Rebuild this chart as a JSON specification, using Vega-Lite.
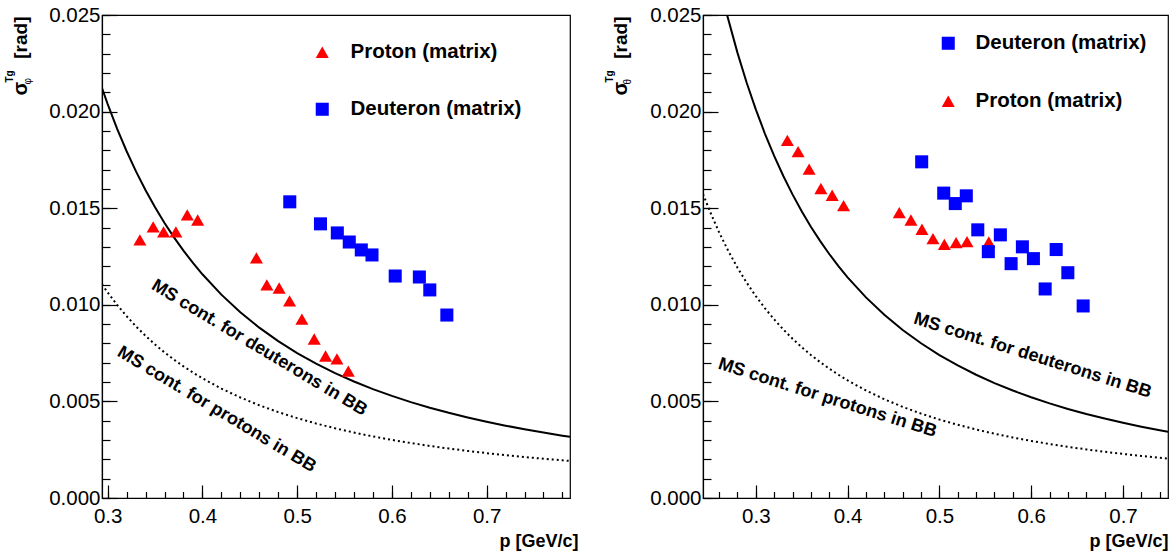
{
  "$schema": "https://vega.github.io/schema/vega-lite/v6.json",
  "background": "white",
  "padding": {"left": 3, "top": 4, "right": 2, "bottom": 2},
  "spacing": 133,
  "bounds": "flush",
  "config": {
    "view": {"stroke": "black", "strokeWidth": 1.2},
    "font": "Liberation Sans",
    "axis": {"grid": false, "domainColor": "black", "tickColor": "black", "labelColor": "black", "titleColor": "black", "labelFont": "Liberation Sans", "titleFont": "Liberation Sans", "labelFlush": false, "labelOverlap": false, "domainWidth": 1.2, "tickWidth": 1.2}
  },
  "resolve": {"scale": {"color": "independent", "shape": "independent"}},
  "datasets": {
    "left_d": [
      {"p": 0.294, "sigma": 0.021217}, {"p": 0.30, "sigma": 0.020388}, {"p": 0.31, "sigma": 0.019110}, {"p": 0.32, "sigma": 0.017949},
      {"p": 0.33, "sigma": 0.016893}, {"p": 0.34, "sigma": 0.015929}, {"p": 0.35, "sigma": 0.015046}, {"p": 0.36, "sigma": 0.014235},
      {"p": 0.37, "sigma": 0.013490}, {"p": 0.38, "sigma": 0.012802}, {"p": 0.39, "sigma": 0.012167}, {"p": 0.40, "sigma": 0.011579},
      {"p": 0.42, "sigma": 0.010526}, {"p": 0.44, "sigma": 0.009613}, {"p": 0.46, "sigma": 0.008816}, {"p": 0.48, "sigma": 0.008117},
      {"p": 0.50, "sigma": 0.007500}, {"p": 0.52, "sigma": 0.006953}, {"p": 0.54, "sigma": 0.006466}, {"p": 0.56, "sigma": 0.006030},
      {"p": 0.58, "sigma": 0.005638}, {"p": 0.60, "sigma": 0.005284}, {"p": 0.62, "sigma": 0.004964}, {"p": 0.64, "sigma": 0.004674},
      {"p": 0.66, "sigma": 0.004409}, {"p": 0.68, "sigma": 0.004168}, {"p": 0.70, "sigma": 0.003947}, {"p": 0.72, "sigma": 0.003744},
      {"p": 0.74, "sigma": 0.003557}, {"p": 0.76, "sigma": 0.003385}, {"p": 0.78, "sigma": 0.003225}, {"p": 0.788, "sigma": 0.003165}
    ],
    "left_p": [
      {"p": 0.294, "sigma": 0.011057}, {"p": 0.30, "sigma": 0.010639}, {"p": 0.31, "sigma": 0.009995}, {"p": 0.32, "sigma": 0.009410},
      {"p": 0.33, "sigma": 0.008878}, {"p": 0.34, "sigma": 0.008391}, {"p": 0.35, "sigma": 0.007946}, {"p": 0.36, "sigma": 0.007537},
      {"p": 0.37, "sigma": 0.007161}, {"p": 0.38, "sigma": 0.006814}, {"p": 0.39, "sigma": 0.006493}, {"p": 0.40, "sigma": 0.006196},
      {"p": 0.42, "sigma": 0.005664}, {"p": 0.44, "sigma": 0.005203}, {"p": 0.46, "sigma": 0.004800}, {"p": 0.48, "sigma": 0.004446},
      {"p": 0.50, "sigma": 0.004134}, {"p": 0.52, "sigma": 0.003856}, {"p": 0.54, "sigma": 0.003609}, {"p": 0.56, "sigma": 0.003387},
      {"p": 0.58, "sigma": 0.003187}, {"p": 0.60, "sigma": 0.003007}, {"p": 0.62, "sigma": 0.002844}, {"p": 0.64, "sigma": 0.002695},
      {"p": 0.66, "sigma": 0.002560}, {"p": 0.68, "sigma": 0.002436}, {"p": 0.70, "sigma": 0.002322}, {"p": 0.72, "sigma": 0.002218},
      {"p": 0.74, "sigma": 0.002121}, {"p": 0.76, "sigma": 0.002032}, {"p": 0.78, "sigma": 0.001949}, {"p": 0.788, "sigma": 0.001918}
    ],
    "right_d": [
      {"p": 0.2688, "sigma": 0.024992}, {"p": 0.28, "sigma": 0.023052}, {"p": 0.29, "sigma": 0.021506}, {"p": 0.30, "sigma": 0.020113},
      {"p": 0.31, "sigma": 0.018852}, {"p": 0.32, "sigma": 0.017708}, {"p": 0.33, "sigma": 0.016666}, {"p": 0.34, "sigma": 0.015714},
      {"p": 0.35, "sigma": 0.014843}, {"p": 0.36, "sigma": 0.014043}, {"p": 0.37, "sigma": 0.013309}, {"p": 0.38, "sigma": 0.012630},
      {"p": 0.39, "sigma": 0.012003}, {"p": 0.40, "sigma": 0.011423}, {"p": 0.42, "sigma": 0.010384}, {"p": 0.44, "sigma": 0.009483},
      {"p": 0.46, "sigma": 0.008698}, {"p": 0.48, "sigma": 0.008008}, {"p": 0.50, "sigma": 0.007399}, {"p": 0.52, "sigma": 0.006860},
      {"p": 0.54, "sigma": 0.006379}, {"p": 0.56, "sigma": 0.005948}, {"p": 0.58, "sigma": 0.005562}, {"p": 0.60, "sigma": 0.005213},
      {"p": 0.62, "sigma": 0.004897}, {"p": 0.64, "sigma": 0.004611}, {"p": 0.66, "sigma": 0.004350}, {"p": 0.68, "sigma": 0.004112},
      {"p": 0.70, "sigma": 0.003894}, {"p": 0.72, "sigma": 0.003693}, {"p": 0.74, "sigma": 0.003509}, {"p": 0.749, "sigma": 0.003431}
    ],
    "right_p": [
      {"p": 0.2425, "sigma": 0.015738}, {"p": 0.25, "sigma": 0.014837}, {"p": 0.26, "sigma": 0.013755}, {"p": 0.27, "sigma": 0.012790},
      {"p": 0.28, "sigma": 0.011927}, {"p": 0.29, "sigma": 0.011152}, {"p": 0.30, "sigma": 0.010452}, {"p": 0.31, "sigma": 0.009820},
      {"p": 0.32, "sigma": 0.009245}, {"p": 0.33, "sigma": 0.008722}, {"p": 0.34, "sigma": 0.008245}, {"p": 0.35, "sigma": 0.007807},
      {"p": 0.36, "sigma": 0.007405}, {"p": 0.37, "sigma": 0.007035}, {"p": 0.38, "sigma": 0.006695}, {"p": 0.39, "sigma": 0.006380},
      {"p": 0.40, "sigma": 0.006088}, {"p": 0.42, "sigma": 0.005565}, {"p": 0.44, "sigma": 0.005112}, {"p": 0.46, "sigma": 0.004716},
      {"p": 0.48, "sigma": 0.004368}, {"p": 0.50, "sigma": 0.004061}, {"p": 0.52, "sigma": 0.003789}, {"p": 0.54, "sigma": 0.003545},
      {"p": 0.56, "sigma": 0.003328}, {"p": 0.58, "sigma": 0.003131}, {"p": 0.60, "sigma": 0.002954}, {"p": 0.62, "sigma": 0.002794},
      {"p": 0.64, "sigma": 0.002648}, {"p": 0.66, "sigma": 0.002515}, {"p": 0.68, "sigma": 0.002393}, {"p": 0.70, "sigma": 0.002281},
      {"p": 0.72, "sigma": 0.002179}, {"p": 0.74, "sigma": 0.002084}, {"p": 0.749, "sigma": 0.002044}
    ],
    "left_points": [
      {"p": 0.334, "sigma": 0.01336, "species": "Proton (matrix)"}, {"p": 0.348, "sigma": 0.01403, "species": "Proton (matrix)"},
      {"p": 0.359, "sigma": 0.01377, "species": "Proton (matrix)"}, {"p": 0.372, "sigma": 0.01377, "species": "Proton (matrix)"},
      {"p": 0.384, "sigma": 0.01465, "species": "Proton (matrix)"}, {"p": 0.395, "sigma": 0.01439, "species": "Proton (matrix)"},
      {"p": 0.457, "sigma": 0.01243, "species": "Proton (matrix)"}, {"p": 0.468, "sigma": 0.01103, "species": "Proton (matrix)"},
      {"p": 0.481, "sigma": 0.01087, "species": "Proton (matrix)"}, {"p": 0.492, "sigma": 0.0102, "species": "Proton (matrix)"},
      {"p": 0.505, "sigma": 0.00926, "species": "Proton (matrix)"}, {"p": 0.518, "sigma": 0.00823, "species": "Proton (matrix)"},
      {"p": 0.530, "sigma": 0.00735, "species": "Proton (matrix)"}, {"p": 0.542, "sigma": 0.0072, "species": "Proton (matrix)"},
      {"p": 0.554, "sigma": 0.00657, "species": "Proton (matrix)"},
      {"p": 0.4922, "sigma": 0.01533, "species": "Deuteron (matrix)"}, {"p": 0.5246, "sigma": 0.01419, "species": "Deuteron (matrix)"},
      {"p": 0.5424, "sigma": 0.01372, "species": "Deuteron (matrix)"}, {"p": 0.555, "sigma": 0.01325, "species": "Deuteron (matrix)"},
      {"p": 0.5677, "sigma": 0.01284, "species": "Deuteron (matrix)"}, {"p": 0.579, "sigma": 0.01258, "species": "Deuteron (matrix)"},
      {"p": 0.6035, "sigma": 0.01149, "species": "Deuteron (matrix)"}, {"p": 0.629, "sigma": 0.01144, "species": "Deuteron (matrix)"},
      {"p": 0.640, "sigma": 0.01077, "species": "Deuteron (matrix)"}, {"p": 0.658, "sigma": 0.00947, "species": "Deuteron (matrix)"}
    ],
    "right_points": [
      {"p": 0.3344, "sigma": 0.01851, "species": "Proton (matrix)"}, {"p": 0.3461, "sigma": 0.01793, "species": "Proton (matrix)"},
      {"p": 0.3581, "sigma": 0.01702, "species": "Proton (matrix)"}, {"p": 0.3709, "sigma": 0.01602, "species": "Proton (matrix)"},
      {"p": 0.3832, "sigma": 0.01567, "species": "Proton (matrix)"}, {"p": 0.3956, "sigma": 0.01513, "species": "Proton (matrix)"},
      {"p": 0.4563, "sigma": 0.01477, "species": "Proton (matrix)"}, {"p": 0.469, "sigma": 0.01439, "species": "Proton (matrix)"},
      {"p": 0.481, "sigma": 0.01391, "species": "Proton (matrix)"}, {"p": 0.493, "sigma": 0.01342, "species": "Proton (matrix)"},
      {"p": 0.5054, "sigma": 0.01313, "species": "Proton (matrix)"}, {"p": 0.5182, "sigma": 0.01322, "species": "Proton (matrix)"},
      {"p": 0.5301, "sigma": 0.01327, "species": "Proton (matrix)"}, {"p": 0.5538, "sigma": 0.01325, "species": "Proton (matrix)"},
      {"p": 0.4807, "sigma": 0.0174, "species": "Deuteron (matrix)"}, {"p": 0.5047, "sigma": 0.01578, "species": "Deuteron (matrix)"},
      {"p": 0.5173, "sigma": 0.01524, "species": "Deuteron (matrix)"}, {"p": 0.5293, "sigma": 0.01564, "species": "Deuteron (matrix)"},
      {"p": 0.5418, "sigma": 0.01388, "species": "Deuteron (matrix)"}, {"p": 0.5533, "sigma": 0.01275, "species": "Deuteron (matrix)"},
      {"p": 0.5664, "sigma": 0.01362, "species": "Deuteron (matrix)"}, {"p": 0.5781, "sigma": 0.01213, "species": "Deuteron (matrix)"},
      {"p": 0.5904, "sigma": 0.013, "species": "Deuteron (matrix)"}, {"p": 0.6024, "sigma": 0.01239, "species": "Deuteron (matrix)"},
      {"p": 0.6152, "sigma": 0.01082, "species": "Deuteron (matrix)"}, {"p": 0.6272, "sigma": 0.01286, "species": "Deuteron (matrix)"},
      {"p": 0.6399, "sigma": 0.01166, "species": "Deuteron (matrix)"}, {"p": 0.6566, "sigma": 0.00994, "species": "Deuteron (matrix)"}
    ],
    "left_labels": [
      {"p": 0.460, "sigma": 0.00776, "label": "MS cont. for deuterons in BB"},
      {"p": 0.415, "sigma": 0.00457, "label": "MS cont. for protons in BB"}
    ],
    "right_labels": [
      {"p": 0.6015, "sigma": 0.00736, "label": "MS cont. for deuterons in BB"},
      {"p": 0.378, "sigma": 0.00517, "label": "MS cont. for protons in BB"}
    ]
  },
  "hconcat": [
    {
      "width": 468,
      "height": 483,
      "resolve": {"axis": {"x": "independent", "y": "independent"}},
      "layer": [
        {
          "data": {"name": "left_d"},
          "mark": {"type": "line", "color": "black", "strokeWidth": 2, "clip": true},
          "encoding": {
            "x": {"field": "p", "type": "quantitative", "scale": {"domain": [0.294, 0.788], "nice": false, "zero": false},
              "axis": {"orient": "bottom", "values": [0.3, 0.4, 0.5, 0.6, 0.7], "format": ".1f", "tickSize": -13, "labelPadding": 21, "labelFontSize": 20.5,
                "title": "p [GeV/c]", "titleFontSize": 18, "titleFontWeight": "bold", "titleAlign": "right", "titleBaseline": "middle", "titleX": 476, "titleY": 43}},
            "y": {"field": "sigma", "type": "quantitative", "scale": {"domain": [0, 0.025], "nice": false, "zero": false},
              "axis": {"orient": "left", "values": [0, 0.005, 0.01, 0.015, 0.02, 0.025], "format": ".3f", "tickSize": -15, "labelPadding": 17, "labelFontSize": 20.5,
                "title": "[rad]", "titleFontSize": 19, "titleFontWeight": "bold", "titleAngle": 270, "titleAlign": "right", "titleBaseline": "alphabetic", "titleX": -76, "titleY": 1}}
          }
        },
        {
          "data": {"name": "left_p"},
          "mark": {"type": "line", "color": "black", "strokeWidth": 2, "strokeDash": [2, 3], "clip": true},
          "encoding": {
            "x": {"field": "p", "type": "quantitative", "scale": {"domain": [0.294, 0.788], "nice": false, "zero": false},
              "axis": {"orient": "bottom", "values": [0.3, 0.32, 0.34, 0.36, 0.38, 0.4, 0.42, 0.44, 0.46, 0.48, 0.5, 0.52, 0.54, 0.56, 0.58, 0.6, 0.62, 0.64, 0.66, 0.68, 0.7, 0.72, 0.74, 0.76, 0.78],
                "tickSize": -6.5, "labels": false, "domain": false, "title": null}},
            "y": {"field": "sigma", "type": "quantitative", "scale": {"domain": [0, 0.025], "nice": false, "zero": false},
              "axis": {"orient": "left", "values": [0, 0.001, 0.002, 0.003, 0.004, 0.005, 0.006, 0.007, 0.008, 0.009, 0.01, 0.011, 0.012, 0.013, 0.014, 0.015, 0.016, 0.017, 0.018, 0.019, 0.02, 0.021, 0.022, 0.023, 0.024, 0.025],
                "tickSize": -8, "labels": false, "domain": false,
                "title": "σ", "titleFontSize": 20, "titleFontWeight": "bold", "titleAngle": 270, "titleAlign": "left", "titleBaseline": "alphabetic", "titleX": -76, "titleY": 80}}
          }
        },
        {
          "data": {"name": "left_points"},
          "mark": {"type": "point", "filled": true, "size": 170, "opacity": 1, "strokeWidth": 0},
          "encoding": {
            "x": {"field": "p", "type": "quantitative", "scale": {"domain": [0.294, 0.788], "nice": false, "zero": false}, "axis": null},
            "y": {"field": "sigma", "type": "quantitative", "scale": {"domain": [0, 0.025], "nice": false, "zero": false},
              "axis": {"orient": "left", "ticks": false, "labels": false, "domain": false,
                "title": "Tg", "titleFontSize": 10, "titleFontWeight": "bold", "titleAngle": 270, "titleAlign": "left", "titleBaseline": "alphabetic", "titleX": -90, "titleY": 67}},
            "color": {"field": "species", "type": "nominal", "scale": {"domain": ["Proton (matrix)", "Deuteron (matrix)"], "range": ["#ff0000", "#0000ff"]},
              "legend": {"orient": "none", "legendX": 210, "legendY": 27, "title": null, "labelFontSize": 20.5, "labelFontWeight": "bold", "labelFont": "Liberation Sans", "labelColor": "black", "labelLimit": 400, "symbolSize": 170, "symbolStrokeWidth": 0, "rowPadding": 36, "labelOffset": 18, "padding": 0}},
            "shape": {"field": "species", "type": "nominal", "scale": {"domain": ["Proton (matrix)", "Deuteron (matrix)"], "range": ["triangle-up", "square"]},
              "legend": {"orient": "none", "legendX": 210, "legendY": 27, "title": null, "labelFontSize": 20.5, "labelFontWeight": "bold", "labelFont": "Liberation Sans", "labelColor": "black", "labelLimit": 400, "symbolSize": 170, "symbolStrokeWidth": 0, "rowPadding": 36, "labelOffset": 18, "padding": 0}}
          }
        },
        {
          "data": {"name": "left_labels"},
          "mark": {"type": "text", "angle": 31, "font": "Liberation Sans", "fontSize": 18, "fontWeight": "bold", "align": "center", "baseline": "middle", "color": "black"},
          "encoding": {
            "x": {"field": "p", "type": "quantitative", "scale": {"domain": [0.294, 0.788], "nice": false, "zero": false}, "axis": null},
            "y": {"field": "sigma", "type": "quantitative", "scale": {"domain": [0, 0.025], "nice": false, "zero": false},
              "axis": {"orient": "left", "ticks": false, "labels": false, "domain": false,
                "title": "φ", "titleFontSize": 10, "titleFontWeight": "normal", "titleAngle": 270, "titleAlign": "left", "titleBaseline": "alphabetic", "titleX": -71.5, "titleY": 69}},
            "text": {"field": "label", "type": "nominal"}
          }
        }
      ]
    },
    {
      "width": 465,
      "height": 483,
      "resolve": {"axis": {"x": "independent", "y": "independent"}},
      "layer": [
        {
          "data": {"name": "right_d"},
          "mark": {"type": "line", "color": "black", "strokeWidth": 2, "clip": true},
          "encoding": {
            "x": {"field": "p", "type": "quantitative", "scale": {"domain": [0.2425, 0.749], "nice": false, "zero": false},
              "axis": {"orient": "bottom", "values": [0.3, 0.4, 0.5, 0.6, 0.7], "format": ".1f", "tickSize": -13, "labelPadding": 21, "labelFontSize": 20.5,
                "title": "p [GeV/c]", "titleFontSize": 18, "titleFontWeight": "bold", "titleAlign": "right", "titleBaseline": "middle", "titleX": 465, "titleY": 43}},
            "y": {"field": "sigma", "type": "quantitative", "scale": {"domain": [0, 0.025], "nice": false, "zero": false},
              "axis": {"orient": "left", "values": [0, 0.005, 0.01, 0.015, 0.02, 0.025], "format": ".3f", "tickSize": -15, "labelPadding": 17, "labelFontSize": 20.5,
                "title": "[rad]", "titleFontSize": 19, "titleFontWeight": "bold", "titleAngle": 270, "titleAlign": "right", "titleBaseline": "alphabetic", "titleX": -77, "titleY": 1}}
          }
        },
        {
          "data": {"name": "right_p"},
          "mark": {"type": "line", "color": "black", "strokeWidth": 2, "strokeDash": [2, 3], "clip": true},
          "encoding": {
            "x": {"field": "p", "type": "quantitative", "scale": {"domain": [0.2425, 0.749], "nice": false, "zero": false},
              "axis": {"orient": "bottom", "values": [0.26, 0.28, 0.3, 0.32, 0.34, 0.36, 0.38, 0.4, 0.42, 0.44, 0.46, 0.48, 0.5, 0.52, 0.54, 0.56, 0.58, 0.6, 0.62, 0.64, 0.66, 0.68, 0.7, 0.72, 0.74],
                "tickSize": -6.5, "labels": false, "domain": false, "title": null}},
            "y": {"field": "sigma", "type": "quantitative", "scale": {"domain": [0, 0.025], "nice": false, "zero": false},
              "axis": {"orient": "left", "values": [0, 0.001, 0.002, 0.003, 0.004, 0.005, 0.006, 0.007, 0.008, 0.009, 0.01, 0.011, 0.012, 0.013, 0.014, 0.015, 0.016, 0.017, 0.018, 0.019, 0.02, 0.021, 0.022, 0.023, 0.024, 0.025],
                "tickSize": -8, "labels": false, "domain": false,
                "title": "σ", "titleFontSize": 20, "titleFontWeight": "bold", "titleAngle": 270, "titleAlign": "left", "titleBaseline": "alphabetic", "titleX": -77, "titleY": 80}}
          }
        },
        {
          "data": {"name": "right_points"},
          "mark": {"type": "point", "filled": true, "size": 170, "opacity": 1, "strokeWidth": 0},
          "encoding": {
            "x": {"field": "p", "type": "quantitative", "scale": {"domain": [0.2425, 0.749], "nice": false, "zero": false}, "axis": null},
            "y": {"field": "sigma", "type": "quantitative", "scale": {"domain": [0, 0.025], "nice": false, "zero": false},
              "axis": {"orient": "left", "ticks": false, "labels": false, "domain": false,
                "title": "Tg", "titleFontSize": 10, "titleFontWeight": "bold", "titleAngle": 270, "titleAlign": "left", "titleBaseline": "alphabetic", "titleX": -91, "titleY": 67}},
            "color": {"field": "species", "type": "nominal", "scale": {"domain": ["Deuteron (matrix)", "Proton (matrix)"], "range": ["#0000ff", "#ff0000"]},
              "legend": {"orient": "none", "legendX": 235, "legendY": 18, "title": null, "labelFontSize": 20.5, "labelFontWeight": "bold", "labelFont": "Liberation Sans", "labelColor": "black", "labelLimit": 400, "symbolSize": 170, "symbolStrokeWidth": 0, "rowPadding": 37, "labelOffset": 17, "padding": 0}},
            "shape": {"field": "species", "type": "nominal", "scale": {"domain": ["Deuteron (matrix)", "Proton (matrix)"], "range": ["square", "triangle-up"]},
              "legend": {"orient": "none", "legendX": 235, "legendY": 18, "title": null, "labelFontSize": 20.5, "labelFontWeight": "bold", "labelFont": "Liberation Sans", "labelColor": "black", "labelLimit": 400, "symbolSize": 170, "symbolStrokeWidth": 0, "rowPadding": 37, "labelOffset": 17, "padding": 0}}
          }
        },
        {
          "data": {"name": "right_labels"},
          "mark": {"type": "text", "angle": 17.5, "font": "Liberation Sans", "fontSize": 18, "fontWeight": "bold", "align": "center", "baseline": "middle", "color": "black"},
          "encoding": {
            "x": {"field": "p", "type": "quantitative", "scale": {"domain": [0.2425, 0.749], "nice": false, "zero": false}, "axis": null},
            "y": {"field": "sigma", "type": "quantitative", "scale": {"domain": [0, 0.025], "nice": false, "zero": false},
              "axis": {"orient": "left", "ticks": false, "labels": false, "domain": false,
                "title": "θ", "titleFontSize": 10, "titleFontWeight": "normal", "titleAngle": 270, "titleAlign": "left", "titleBaseline": "alphabetic", "titleX": -72.5, "titleY": 69}},
            "text": {"field": "label", "type": "nominal"}
          }
        }
      ]
    }
  ]
}
